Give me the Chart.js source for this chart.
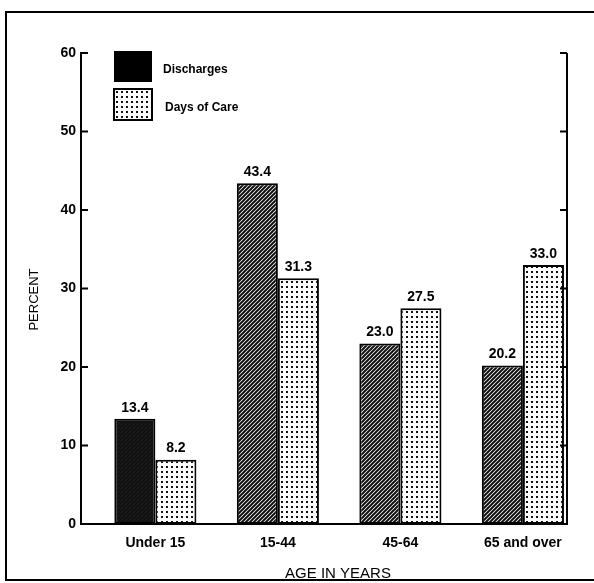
<!DOCTYPE html>
<html>
<head>
<meta charset="utf-8">
<script src="https://cdn.jsdelivr.net/npm/chart.js@4.4.1/dist/chart.umd.min.js"></script>
<style>
html, body { margin: 0; padding: 0; background: #fff; }
</style>
</head>
<body>
<canvas id="chart" width="594" height="583"></canvas>
<script>
const categories = ['Under 15', '15-44', '45-64', '65 and over'];
const discharges = [13.4, 43.4, 23.0, 20.2];
const daysOfCare = [8.2, 31.3, 27.5, 33.0];
const seriesNames = ['Discharges', 'Days of Care'];
const yTicks = [0, 10, 20, 30, 40, 50, 60];
const xTitle = 'AGE IN YEARS';
const yTitle = 'PERCENT';

const FONT = 'Liberation Sans, Arial, sans-serif';

// diagonal hatch tile ("////")
function hatch(lw) {
	const c = document.createElement('canvas');
	c.width = 4;
	c.height = 4;
	const g = c.getContext('2d');
	g.fillStyle = '#fff';
	g.fillRect(0, 0, 4, 4);
	g.strokeStyle = '#111';
	g.lineWidth = lw;
	g.beginPath();
	g.moveTo(-1, 5); g.lineTo(5, -1);
	g.moveTo(-1, 1); g.lineTo(1, -1);
	g.moveTo(3, 5); g.lineTo(5, 3);
	g.stroke();
	return g.createPattern(c, 'repeat');
}

// dotted screen tile
function dots() {
	const c = document.createElement('canvas');
	c.width = 5;
	c.height = 5;
	const g = c.getContext('2d');
	g.fillStyle = '#fff';
	g.fillRect(0, 0, 5, 5);
	g.fillStyle = '#111';
	g.fillRect(1, 1, 2, 2);
	return g.createPattern(c, 'repeat');
}

const hatchDark = hatch(2.8);
const hatchNormal = hatch(2.0);
const dotFill = dots();

const decor = {
	id: 'decor',
	beforeDraw(chart) {
		const { ctx, width, height } = chart;
		ctx.save();
		ctx.fillStyle = '#fff';
		ctx.fillRect(0, 0, width, height);
		// outer frame (top, left, bottom)
		ctx.strokeStyle = '#000';
		ctx.lineWidth = 2;
		ctx.beginPath();
		ctx.moveTo(594, 12);
		ctx.lineTo(6, 12);
		ctx.lineTo(6, 580);
		ctx.lineTo(594, 580);
		ctx.stroke();
		ctx.restore();
	},
	afterDatasetsDraw(chart) {
		const { ctx } = chart;
		ctx.save();
		ctx.fillStyle = '#000';
		ctx.font = `bold 14px ${FONT}`;
		ctx.textAlign = 'center';
		ctx.textBaseline = 'bottom';
		chart.data.datasets.forEach((ds, di) => {
			chart.getDatasetMeta(di).data.forEach((el, i) => {
				ctx.fillText(ds.data[i].y.toFixed(1), el.x, el.y - 4);
			});
		});
		ctx.restore();
	},
	afterDraw(chart) {
		const { ctx, chartArea } = chart;
		const y = chart.scales.y;
		ctx.save();
		ctx.strokeStyle = '#000';
		ctx.lineWidth = 2;
		// right axis
		ctx.beginPath();
		ctx.moveTo(chartArea.right, y.getPixelForValue(60));
		ctx.lineTo(chartArea.right, y.getPixelForValue(0));
		ctx.stroke();
		// inward tick marks on both sides
		yTicks.forEach((v) => {
			const py = y.getPixelForValue(v);
			ctx.beginPath();
			ctx.moveTo(chartArea.left, py);
			ctx.lineTo(chartArea.left + 7, py);
			ctx.moveTo(chartArea.right - 7, py);
			ctx.lineTo(chartArea.right, py);
			ctx.stroke();
		});

		// axis titles
		ctx.fillStyle = '#000';
		ctx.textAlign = 'center';
		ctx.textBaseline = 'middle';
		ctx.font = `15px ${FONT}`;
		ctx.fillText(xTitle, (chartArea.left + chartArea.right) / 2 + 14, 574);
		ctx.save();
		ctx.translate(34, (chartArea.top + chartArea.bottom) / 2 + 11);
		ctx.rotate(-Math.PI / 2);
		ctx.font = `13px ${FONT}`;
		ctx.fillText(yTitle, 0, 0);
		ctx.restore();

		// legend
		const lx = 114, boxW = 38, boxH = 31;
		const rows = [51, 89];
		ctx.fillStyle = '#000';
		ctx.fillRect(lx, rows[0], boxW, boxH);
		ctx.fillStyle = dotFill;
		ctx.fillRect(lx, rows[1], boxW, boxH);
		ctx.strokeRect(lx, rows[1], boxW, boxH);
		ctx.fillStyle = '#000';
		ctx.font = `bold 12px ${FONT}`;
		ctx.textAlign = 'left';
		ctx.textBaseline = 'middle';
		seriesNames.forEach((name, i) => {
			ctx.fillText(name, lx + boxW + (i ? 13 : 11), rows[i] + boxH / 2 + 3);
		});
		ctx.restore();
	},
};

const ctx = document.getElementById('chart');
new Chart(ctx, {
	type: 'bar',
	data: {
		datasets: [
			{
				label: seriesNames[0],
				data: categories.map((c, i) => ({ x: i, y: discharges[i] })),
				backgroundColor: [hatchDark, hatchNormal, hatchNormal, hatchNormal],
				borderColor: '#000',
				borderWidth: 2,
				borderSkipped: false,
				categoryPercentage: 0.67,
				barPercentage: 1,
			},
			{
				label: seriesNames[1],
				data: categories.map((c, i) => ({ x: i, y: daysOfCare[i] })),
				backgroundColor: dotFill,
				borderColor: '#000',
				borderWidth: 2,
				borderSkipped: false,
				categoryPercentage: 0.67,
				barPercentage: 1,
			},
		],
	},
	options: {
		responsive: false,
		animation: false,
		layout: {
			padding: { top: 53, right: 27, bottom: 0, left: 0 },
		},
		scales: {
			x: {
				type: 'linear',
				min: -0.607,
				max: 3.36,
				bounds: 'data',
				offset: false,
				grid: { display: false, drawTicks: false },
				border: { display: true, color: '#000', width: 2 },
				afterBuildTicks: (s) => {
					s.ticks = categories.map((c, i) => ({ value: i }));
				},
				ticks: {
					autoSkip: false,
					maxRotation: 0,
					padding: 11,
					color: '#000',
					font: { family: FONT, size: 14, weight: 'bold' },
					callback: (v) => categories[v] ?? '',
				},
				afterFit: (s) => {
					s.height = 59;
				},
			},
			y: {
				min: 0,
				max: 60,
				grid: { display: false, drawTicks: false },
				border: { display: true, color: '#000', width: 2 },
				ticks: {
					stepSize: 10,
					padding: 5,
					color: '#000',
					font: { family: FONT, size: 14, weight: 'bold' },
				},
				afterFit: (s) => {
					s.width = 81;
				},
			},
		},
		plugins: {
			legend: { display: false },
			tooltip: { enabled: false },
		},
	},
	plugins: [decor],
});
</script>
</body>
</html>
